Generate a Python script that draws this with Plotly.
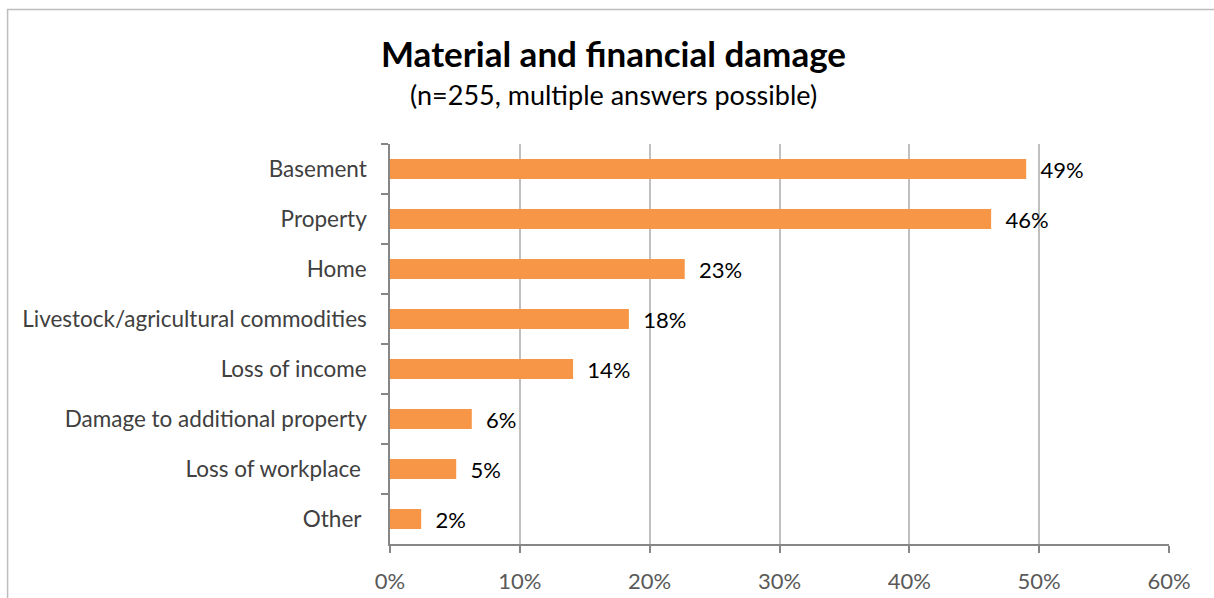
import plotly.graph_objects as go

# Survey results: share of respondents reporting each type of damage
categories = [
    "Basement",
    "Property",
    "Home",
    "Livestock/agricultural commodities",
    "Loss of income",
    "Damage to additional property",
    "Loss of workplace ",
    "Other ",
]
shares = [49.0, 46.3, 22.7, 18.4, 14.1, 6.3, 5.1, 2.4]
x_ticks = [0, 10, 20, 30, 40, 50, 60]
x_tick_labels = ["0%", "10%", "20%", "30%", "40%", "50%", "60%"]

title_text = "Material and financial damage"
subtitle_text = "(n=255, multiple answers possible)"

FONT = "Lato"
ORANGE = "#F79646"
AXIS_GREY = "#868686"
GRID_GREY = "#C0C0C0"

fig = go.Figure(
    go.Bar(
        x=shares,
        y=categories,
        orientation="h",
        marker=dict(color=ORANGE, line=dict(width=0)),
        texttemplate="\u00a0\u00a0%{x:.0f}%",
        textposition="outside",
        constraintext="none",
        cliponaxis=False,
        textfont=dict(family=FONT, size=22, color="#000000"),
        hoverinfo="skip",
    )
)

fig.update_layout(
    width=1214,
    height=598,
    margin=dict(l=390, r=45, t=144, b=54, autoexpand=False),
    paper_bgcolor="white",
    plot_bgcolor="white",
    showlegend=False,
    bargap=0.6,
    font=dict(family=FONT),
    annotations=[
        dict(
            text="<b>" + title_text + "</b>",
            xref="paper", yref="paper",
            x=0.287, y=1.228, xanchor="center", yanchor="middle",
            showarrow=False,
            font=dict(family=FONT, size=35, color="#000000"),
        ),
        dict(
            text=subtitle_text,
            xref="paper", yref="paper",
            x=0.287, y=1.123, xanchor="center", yanchor="middle",
            showarrow=False,
            font=dict(family=FONT, size=27, color="#000000"),
        ),
    ],
    shapes=[
        # chart-area frame
        dict(
            type="rect", xref="paper", yref="paper",
            x0=-0.4909, x1=1.2, y0=-0.3, y1=1.336,
            line=dict(color="#BDBDBD", width=1.5),
            fillcolor="rgba(0,0,0,0)",
            layer="below",
        )
    ],
)

fig.update_xaxes(
    range=[0, 60],
    tickvals=x_ticks,
    ticktext=x_tick_labels,
    automargin=False,
    showgrid=True,
    gridcolor=GRID_GREY,
    gridwidth=1.5,
    showline=True,
    linecolor=AXIS_GREY,
    linewidth=1.5,
    ticks="outside",
    ticklen=7,
    tickcolor=AXIS_GREY,
    tickwidth=1.5,
    ticklabelstandoff=10,
    tickfont=dict(family=FONT, size=22, color="#595959"),
    zeroline=False,
    fixedrange=True,
)

fig.update_yaxes(
    autorange="reversed",
    automargin=False,
    showline=True,
    linecolor=AXIS_GREY,
    linewidth=1.5,
    ticks="outside",
    tickson="boundaries",
    ticklen=7,
    tickcolor=AXIS_GREY,
    tickwidth=1.5,
    ticklabelstandoff=17,
    tickfont=dict(family=FONT, size=22.5, color="#404040"),
    showgrid=False,
    fixedrange=True,
)

fig.write_html("out.html")
